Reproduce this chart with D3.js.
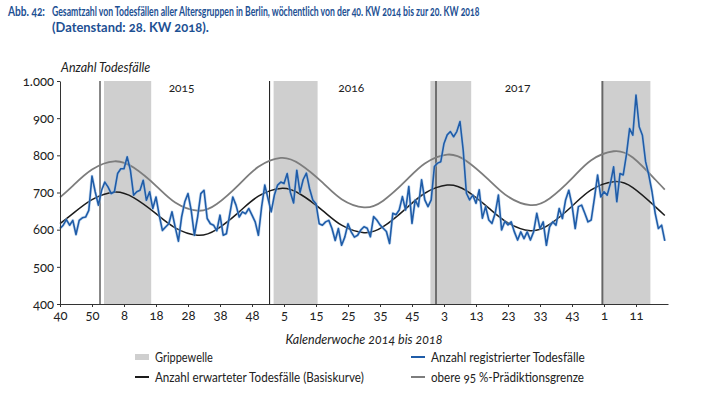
<!DOCTYPE html>
<html>
<head>
<meta charset="utf-8">
<script src="https://cdn.jsdelivr.net/npm/d3@7"></script>
<style>
body { margin: 0; background: #fff; }
svg text { font-family: Lato, "Open Sans", sans-serif; fill: #222; font-variant-numeric: oldstyle-nums; }
</style>
</head>
<body>
<svg id="chart"></svg>
<script>
// Zeitraum: 40. KW 2014 bis 20. KW 2018
const jahre = [2014, 2015, 2016, 2017, 2018];
const ersteWoche = [40, 1, 1, 1, 1];
const letzteWoche = [52, 53, 52, 52, 20];

const tickLabels = ["40", "50", "8", "18", "28", "38", "48", "5", "15", "25", "35", "45", "3", "13", "23", "33", "43", "1", "11"];
const yTicks = [400, 500, 600, 700, 800, 900, 1000];

// Anzahl registrierter Todesfälle (wöchentlich)
const registriert = [
  603, 612, 627, 612, 625, 587, 625, 632, 634, 652,
  744, 702, 666, 706, 728, 715, 697, 702, 751, 764,
  764, 796, 760, 693, 702, 706, 733, 679, 702, 657,
  688, 639, 598, 607, 616, 648, 607, 569, 634, 675,
  697, 652, 585, 634, 697, 706, 630, 616, 612, 597,
  639, 585, 589, 639, 688, 666, 634, 648, 643, 657,
  639, 621, 585, 661, 720, 684, 648, 693, 720, 728,
  724, 751, 700, 672, 760, 700, 735, 752, 710, 680,
  670, 616, 612, 621, 625, 603, 571, 603, 558, 580,
  616, 594, 580, 585, 599, 608, 604, 581, 635, 626,
  613, 604, 595, 563, 644, 640, 653, 689, 653, 716,
  617, 680, 662, 734, 680, 662, 680, 770, 779, 783,
  832, 855, 864, 850, 864, 891, 814, 698, 680, 693,
  671, 707, 631, 662, 626, 617, 644, 693, 599, 622,
  613, 621, 594, 572, 594, 576, 594, 572, 594, 644,
  603, 621, 558, 608, 621, 612, 657, 630, 680, 706,
  666, 603, 662, 666, 644, 621, 626, 684, 747, 688,
  702, 693, 724, 769, 675, 751, 747, 801, 872, 854,
  962, 877, 854, 783, 747, 702, 644, 603, 612, 570
];

const kurvenWochen = [
  "2014-W40", "2014-W44", "2014-W50", "2015-W05", "2015-W11", "2015-W18", "2015-W24", "2015-W31",
  "2015-W37", "2015-W44", "2015-W50", "2016-W04", "2016-W10", "2016-W17", "2016-W23", "2016-W30",
  "2016-W36", "2016-W43", "2016-W49", "2017-W04", "2017-W10", "2017-W17", "2017-W23", "2017-W30",
  "2017-W36", "2017-W43", "2017-W49", "2018-W04", "2018-W10", "2018-W17", "2018-W20"
];
const basiskurve = [
  616, 643, 681, 701, 686, 643, 605, 585,
  601, 648, 690, 711, 696, 652, 612, 592,
  608, 656, 698, 720, 705, 658, 618, 597,
  614, 663, 707, 729, 713, 662, 638
];
const obereGrenze = [
  687, 718, 762, 784, 767, 718, 673, 651,
  669, 722, 769, 793, 776, 727, 682, 660,
  678, 731, 778, 802, 785, 734, 689, 666,
  684, 738, 787, 811, 794, 735, 708
];

// Grippewellen
const grippeStart = ["2015-W02", "2016-W02", "2016-W51", "2018-W01"];
const grippeEnde = ["2015-W16", "2016-W15", "2017-W11", "2018-W15"];

const jahresLabels = ["2015", "2016", "2017"];
const jahreswechsel = [2015, 2016, 2017, 2018];

let kategorien = [];
jahre.forEach((j, k) => {
  for (let w = ersteWoche[k]; w <= letzteWoche[k]; w++) {
    kategorien.push(j + "-W" + String(w).padStart(2, "0"));
  }
});
let pos = k => kategorien.indexOf(k);

// Text auf eine Breite stauchen
function einpassen(sel, x, y, breite) {
  let w = sel.node().getComputedTextLength();
  sel.attr("x", 0).attr("y", 0)
    .attr("transform", "translate(" + x + "," + y + ") scale(" + (breite / w) + ",1)");
}

let svg = d3.select("#chart")
  .attr("width", 705)
  .attr("height", 394);

let links = 60, rechts = 668, oben = 81, unten = 304;

let fnX = d3.scaleLinear()
  .domain([0, kategorien.length])
  .range([links, rechts]);

let fnY = d3.scaleLinear()
  .domain([400, 1000])
  .range([unten, oben]);

// Titel
let titel = svg.append("g")
  .attr("font-weight", "bold")
  .attr("font-size", 13);
einpassen(titel.append("text").text("Abb. 42:").style("fill", "#1d5093"), 8, 16, 37);
einpassen(titel.append("text")
  .text("Gesamtzahl von Todesfällen aller Altersgruppen in Berlin, wöchentlich von der 40. KW 2014 bis zur 20. KW 2018")
  .style("fill", "#1d5093"), 52, 16, 428);
einpassen(titel.append("text").text("(Datenstand: 28. KW 2018).").style("fill", "#1d5093"), 52, 32, 157);

// Grippewellen als Flächen
svg.selectAll(".grippe")
  .data(grippeStart)
  .enter()
  .append("rect")
  .classed("grippe", true)
  .attr("x", d => fnX(pos(d) - 0.25))
  .attr("y", oben)
  .attr("width", (d, i) => fnX(pos(grippeEnde[i]) + 0.5) - fnX(pos(d) - 0.25))
  .attr("height", unten - oben)
  .attr("fill", "#cfcfcf");

// Jahreswechsel
svg.selectAll(".wechsel")
  .data(jahreswechsel)
  .enter()
  .append("line")
  .classed("wechsel", true)
  .attr("x1", d => fnX(pos(d + "-W01") - 0.5))
  .attr("x2", d => fnX(pos(d + "-W01") - 0.5))
  .attr("y1", oben)
  .attr("y2", unten)
  .attr("stroke", (d, i) => i == 3 ? "#666" : "#111")
  .attr("stroke-width", (d, i) => i == 3 ? 2 : 1);

svg.selectAll(".jahr")
  .data(jahresLabels)
  .enter()
  .append("text")
  .classed("jahr", true)
  .attr("x", d => fnX(pos(d + "-W26")))
  .attr("y", 92)
  .attr("text-anchor", "middle")
  .attr("font-size", 12)
  .text(d => d);

// Kurven
let kurve = d3.line()
  .x((d, i) => fnX(pos(kurvenWochen[i])))
  .y(d => fnY(d))
  .curve(d3.curveNatural);

svg.append("path")
  .attr("d", kurve(obereGrenze))
  .attr("fill", "none")
  .attr("stroke", "#7d7d7d")
  .attr("stroke-width", 1.8);

svg.append("path")
  .attr("d", kurve(basiskurve))
  .attr("fill", "none")
  .attr("stroke", "#1c1c1c")
  .attr("stroke-width", 1.5);

let linie = d3.line()
  .x((d, i) => fnX(i))
  .y(d => fnY(d));

svg.append("path")
  .attr("d", linie(registriert))
  .attr("fill", "none")
  .attr("stroke", "#9cc0e6")
  .attr("stroke-width", 3)
  .attr("stroke-opacity", 0.5)
  .attr("stroke-linejoin", "round");

svg.append("path")
  .attr("d", linie(registriert))
  .attr("fill", "none")
  .attr("stroke", "#1f5ca8")
  .attr("stroke-width", 1.6)
  .attr("stroke-linejoin", "round");

// Achsen
let deutsch = d3.formatLocale({ decimal: ",", thousands: ".", grouping: [3], currency: ["", " €"] });

let achseY = svg.append("g")
  .attr("transform", "translate(" + links + ",0)")
  .call(d3.axisLeft(fnY).tickValues(yTicks).tickSize(3).tickSizeOuter(0).tickPadding(3)
    .tickFormat(deutsch.format(",")));

let achseX = svg.append("g")
  .attr("transform", "translate(0," + unten + ")")
  .call(d3.axisBottom(fnX).tickValues(d3.range(0, 190, 10)).tickSize(3).tickSizeOuter(0).tickPadding(4)
    .tickFormat((d, i) => tickLabels[i]));

[achseY, achseX].forEach(a => {
  a.attr("font-family", null).attr("font-size", 13);
  a.selectAll("path, line").attr("stroke", "#333");
  a.selectAll("text").style("fill", "#222");
});

svg.append("text")
  .attr("x", 61)
  .attr("y", 72)
  .attr("font-size", 12.5)
  .attr("font-style", "italic")
  .text("Anzahl Todesfälle");

svg.append("text")
  .attr("x", (links + rechts) / 2)
  .attr("y", 344)
  .attr("text-anchor", "middle")
  .attr("font-size", 12.5)
  .attr("font-style", "italic")
  .text("Kalenderwoche 2014 bis 2018");

// Legende
const legendeText = ["Grippewelle", "Anzahl registrierter Todesfälle", "Anzahl erwarteter Todesfälle (Basiskurve)", "obere 95 %-Prädiktionsgrenze"];
const legendeFarbe = ["#cfcfcf", "#1f5ca8", "#1c1c1c", "#7d7d7d"];
const legendeBreite = [58, 154, 209, 153];

let eintrag = svg.selectAll(".legende")
  .data(legendeText)
  .enter()
  .append("g")
  .classed("legende", true)
  .attr("transform", (d, i) => "translate(" + (i % 2 == 0 ? 135 : 411) + "," + (i < 2 ? 357 : 377) + ")");

eintrag.append("rect")
  .attr("x", 0)
  .attr("y", (d, i) => i == 0 ? -3 : -1)
  .attr("width", 14)
  .attr("height", (d, i) => i == 0 ? 6 : 2)
  .attr("fill", (d, i) => legendeFarbe[i]);

eintrag.append("text")
  .attr("font-size", 12.5)
  .text(d => d)
  .each(function (d, i) { einpassen(d3.select(this), 20, 4.5, legendeBreite[i]); });
</script>
</body>
</html>
